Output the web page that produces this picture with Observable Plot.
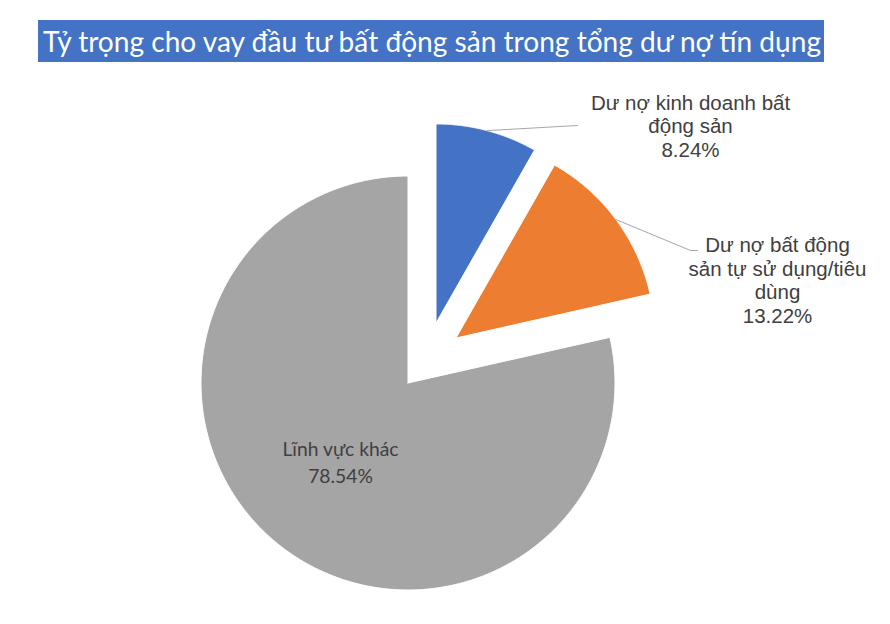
<!DOCTYPE html>
<html>
<head>
<meta charset="utf-8">
<script src="https://cdn.jsdelivr.net/npm/d3@7"></script>
<script src="https://cdn.jsdelivr.net/npm/@observablehq/plot@0.6"></script>
<style>
  html, body { margin: 0; padding: 0; background: #ffffff; }
  #head { position: relative; width: 890px; height: 80px; overflow: hidden; }
  #banner { position: absolute; left: 38px; top: 20px; width: 786px; height: 42px; background: #4472C4; }
  #title { position: absolute; left: 43px; top: 20px; height: 42px; line-height: 42px; color: #ffffff;
           font-family: Lato, "Open Sans", sans-serif; font-size: 28px; white-space: nowrap; transform-origin: 0 50%; }
  #chart { display: block; }
</style>
</head>
<body>
<div id="head"><div id="banner"></div><div id="title">Tỷ trọng cho vay đầu tư bất động sản trong tổng dư nợ tín dụng</div></div>
<div id="chart"></div>
<script>
// ---- data ----
const categories = ["Dư nợ kinh doanh bất động sản", "Dư nợ bất động sản tự sử dụng/tiêu dùng", "Lĩnh vực khác"];
const shares = [8.24, 13.22, 78.54];
const labelLines = [["Dư nợ kinh doanh bất", "động sản"], ["Dư nợ bất động", "sản tự sử dụng/tiêu", "dùng"], ["Lĩnh vực khác"]];

// ---- styles / layout ----
const palette = ["#4472C4", "#ED7D31", "#A5A5A5"];
const W = 890, HEAD = 80, H = 624 - HEAD;
const center = {x: 407.5, y: 382.5 - HEAD};
const explode = [[28, -60], [48, -45], [0, 0]];
const radii = [199, 199, 207];
const labelAnchor = [{x: 690, y: 156 - HEAD}, {x: 777, y: 322 - HEAD}, {x: 340, y: 482 - HEAD}];
const leaderTail = [[[577, 125 - HEAD]], [[690, 250 - HEAD], [697, 250 - HEAD]], null];

// fit title width
const t = document.getElementById("title");
const natural = t.getBoundingClientRect().width;
t.style.transform = `scaleX(${778 / natural})`;

const arcs = d3.pie().sort(null).value(d => d)(shares);
const slicePts = [];
const leaders = [];
arcs.forEach((a, i) => {
  const cx = center.x + explode[i][0], cy = center.y + explode[i][1], r = radii[i];
  const n = 240;
  slicePts.push({name: categories[i], x: cx, y: cy});
  for (let k = 0; k <= n; k++) {
    const ang = a.startAngle + (a.endAngle - a.startAngle) * k / n;
    slicePts.push({name: categories[i], x: cx + r * Math.sin(ang), y: cy - r * Math.cos(ang)});
  }
  slicePts.push({name: categories[i], x: cx, y: cy});
  if (leaderTail[i]) {
    const mid = (a.startAngle + a.endAngle) / 2;
    leaders.push({name: categories[i], x: cx + r * Math.sin(mid), y: cy - r * Math.cos(mid)});
    leaderTail[i].forEach(p => leaders.push({name: categories[i], x: p[0], y: p[1]}));
  }
});

const labels = categories.map((c, i) => ({
  name: c,
  text: [...labelLines[i], d3.format(".2f")(shares[i]) + "%"].join("\n"),
  x: labelAnchor[i].x, y: labelAnchor[i].y
}));

const chart = Plot.plot({
  width: W, height: H, margin: 0,
  x: {domain: [0, W], range: [0, W], axis: null},
  y: {domain: [0, H], range: [0, H], axis: null},
  color: {domain: categories, range: palette},
  style: {background: "#ffffff"},
  marks: [
    Plot.line(slicePts, {x: "x", y: "y", z: "name", fill: "name", stroke: "#ffffff", strokeWidth: 1, curve: "linear"}),
    Plot.line(leaders, {x: "x", y: "y", z: "name", stroke: "#A6A6A6", strokeWidth: 1}),
    Plot.text(labels.slice(0, 2), {x: "x", y: "y", text: "text", lineAnchor: "bottom", textAnchor: "middle",
      fontFamily: "'Liberation Sans', Arial, sans-serif", fontSize: 20.5, lineHeight: 1.14, fill: "#404040"}),
    Plot.text(labels.slice(2), {x: "x", y: "y", text: "text", lineAnchor: "bottom", textAnchor: "middle",
      fontFamily: "Lato, sans-serif", fontSize: 19.3, lineHeight: 1.35, fill: "#404040"})
  ]
});
document.getElementById("chart").appendChild(chart);
</script>
</body>
</html>
